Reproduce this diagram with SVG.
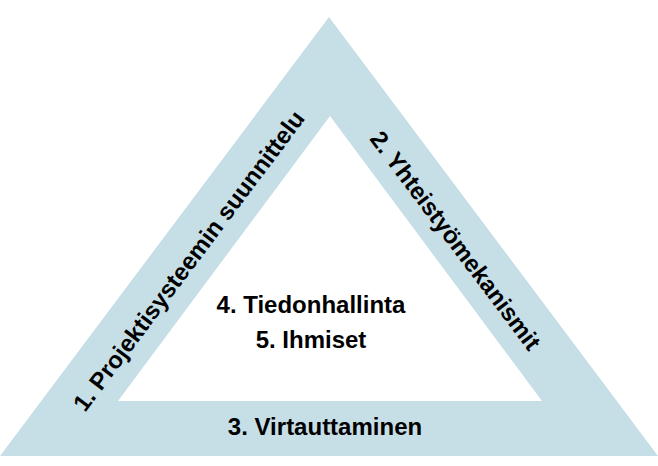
<svg xmlns="http://www.w3.org/2000/svg" width="658" height="466" viewBox="0 0 658 466">
  <style>
    .band { fill: #c6dee6; fill-rule: evenodd; }
    .lbl { font-family: "Liberation Sans", Arial, sans-serif; font-weight: bold; font-size: 24px; fill: #000; }
  </style>
  <rect x="0" y="0" width="658" height="466" fill="#ffffff"/>
  <g id="triangle">
    <path class="band" d="M0,456 L329,17 L658,456 Z M118,401 L542,401 L330,116 Z"/>
  </g>
  <g id="node-1">
    <text class="lbl" x="85" y="413" transform="rotate(-53.13 85 413)">1. Projektisysteemin suunnittelu</text>
  </g>
  <g id="node-2">
    <text class="lbl" x="369" y="139" transform="rotate(53.13 369 139)">2. Yhteistyömekanismit</text>
  </g>
  <g id="node-3">
    <text class="lbl" x="325" y="435" text-anchor="middle">3. Virtauttaminen</text>
  </g>
  <g id="node-center">
    <text class="lbl" x="311" y="313" text-anchor="middle">4. Tiedonhallinta</text>
    <text class="lbl" x="311" y="348" text-anchor="middle">5. Ihmiset</text>
  </g>
  <g id="connectors"></g>
</svg>
